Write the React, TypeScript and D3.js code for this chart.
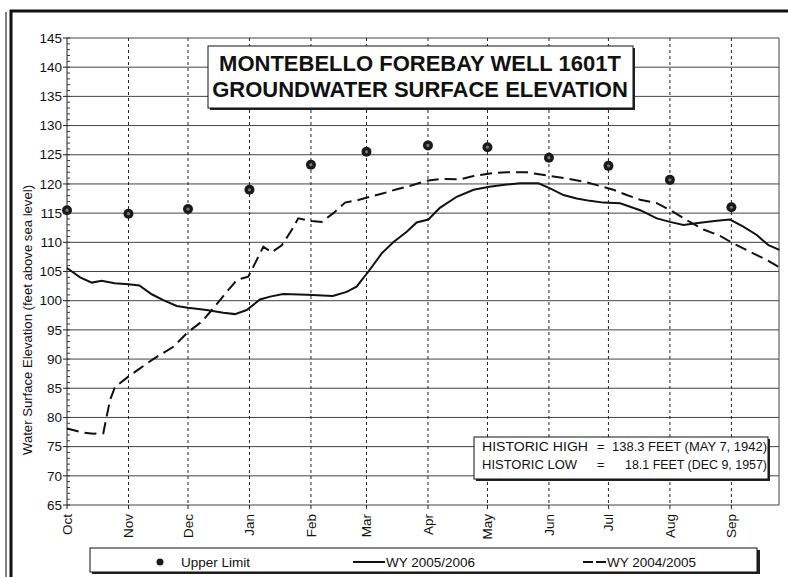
import React from 'react';
import * as d3 from 'd3';

// day of water year (0 = Oct 1) for each month start
const monthNames = ['Oct', 'Nov', 'Dec', 'Jan', 'Feb', 'Mar', 'Apr', 'May', 'Jun', 'Jul', 'Aug', 'Sep'];
const monthDays = [0, 31, 61, 92, 123, 151, 182, 212, 243, 273, 304, 335];

const upperLimit = [115.5, 114.9, 115.7, 119, 123.3, 125.5, 126.6, 126.3, 124.5, 123.1, 120.7, 116];

const wy0506Days = [0, 6.6, 12.5, 17.5, 24, 31, 36.5, 42.7, 48.6, 55.3, 61, 70.4, 78.8, 84.7, 90.6, 97.3, 102.4, 109, 121, 134, 141, 146, 152, 158.7, 164.5, 171.3, 176.3, 182.2, 188, 196.5, 205, 213, 221.7, 228.4, 237.7, 243.6, 250.3, 257, 263.7, 270.5, 278.9, 289, 297.4, 304, 310.8, 319.2, 327.6, 334.3, 341, 347.8, 353.7, 359.2];
const wy0506Vals = [105.6, 104.0, 103.1, 103.4, 103.0, 102.8, 102.6, 101.1, 100.1, 99.1, 98.8, 98.4, 97.95, 97.7, 98.4, 100.2, 100.7, 101.15, 101.0, 100.8, 101.5, 102.4, 105.0, 108.1, 110.0, 111.8, 113.4, 113.9, 115.9, 117.8, 119.0, 119.5, 119.9, 120.1, 120.1, 119.25, 118.1, 117.5, 117.1, 116.8, 116.7, 115.5, 114.1, 113.5, 112.95, 113.35, 113.7, 113.9, 112.7, 111.25, 109.5, 108.7];

const wy0405Days = [0, 7.4, 13.3, 18.3, 21.7, 24.2, 30.6, 36.8, 43.5, 53.6, 60.9, 67.9, 73.8, 80.5, 85.6, 88.1, 91.4, 94.8, 99, 103.2, 108.3, 113.3, 116.6, 123.4, 128.4, 134.3, 140.2, 146.9, 152.8, 159.5, 166.3, 171.3, 181.4, 188.1, 198.2, 205, 213.3, 221.7, 231.8, 243.6, 252, 260.4, 268.8, 275.5, 282.2, 289, 297.4, 304.2, 312.5, 320.9, 329.3, 336, 346, 352.8, 359.2];
const wy0405Vals = [78.1, 77.45, 77.2, 77.3, 83.0, 85.2, 86.9, 88.4, 90.0, 92.1, 94.6, 96.4, 98.7, 101.5, 103.5, 103.8, 104.1, 106.4, 109.25, 108.3, 109.5, 112.1, 114.1, 113.65, 113.5, 115.0, 116.8, 117.25, 117.8, 118.4, 119.1, 119.5, 120.55, 120.85, 120.8, 121.35, 121.8, 122.0, 122.0, 121.35, 120.95, 120.4, 119.65, 119.0, 118.1, 117.3, 116.7, 115.5, 113.8, 112.2, 111.1, 109.8, 108.1, 107.0, 105.7];

const yTicks = d3.range(65, 146, 5);

const W = 788;
const H = 577;
const plot = { left: 67, right: 779, top: 38, bottom: 505 };
const font = 'Arial, "Liberation Sans", sans-serif';

export default function App() {
  const x = d3.scaleLinear().domain([0, 359]).range([plot.left, plot.right]);
  const y = d3.scaleLinear().domain([65, 145]).range([plot.bottom, plot.top]);

  const line = d3
    .line<[number, number]>()
    .x(d => x(d[0]))
    .y(d => y(d[1]));

  const solid = line(wy0506Days.map((d, i) => [d, wy0506Vals[i]] as [number, number]));
  const dashed = line(wy0405Days.map((d, i) => [d, wy0405Vals[i]] as [number, number]));
  const minorTicks = d3.range(65, 146, 1);

  return (
    <svg width={W} height={H} style={{ position: 'absolute', left: 0, top: 0, background: '#fff' }} fontFamily={font}>
      {/* outer frame */}
      <path d="M11,577 V11 H788" fill="none" stroke="#111" strokeWidth={3} />
      <line x1={6} y1={12} x2={6} y2={577} stroke="#555" strokeWidth={1.5} />

      {/* horizontal grid */}
      {yTicks.map(t => (
        <line key={'h' + t} x1={plot.left} x2={plot.right} y1={y(t)} y2={y(t)} stroke="#444" strokeWidth={1} />
      ))}
      {/* vertical grid */}
      {monthDays.slice(1).map(d => (
        <line key={'v' + d} x1={x(d)} x2={x(d)} y1={plot.top} y2={plot.bottom} stroke="#222" strokeWidth={1} strokeDasharray="3,3" />
      ))}
      <line x1={plot.right} x2={plot.right} y1={plot.top} y2={plot.bottom} stroke="#444" />
      <line x1={plot.left} x2={plot.left} y1={plot.top} y2={plot.bottom} stroke="#222" />

      {/* y axis ticks and labels */}
      {minorTicks.map(t => (
        <line key={'m' + t} x1={plot.left} x2={plot.left + 3} y1={y(t)} y2={y(t)} stroke="#333" />
      ))}
      {yTicks.map(t => (
        <g key={'yt' + t}>
          <line x1={plot.left - 4} x2={plot.left} y1={y(t)} y2={y(t)} stroke="#222" />
          <text x={plot.left - 5} y={y(t)} dy="0.35em" textAnchor="end" fontSize={13.5} fill="#111">{t}</text>
        </g>
      ))}

      {/* x axis labels */}
      {monthDays.map((d, i) => (
        <g key={'xt' + d}>
          <line x1={x(d)} x2={x(d)} y1={plot.bottom} y2={plot.bottom + 4} stroke="#222" />
          <text transform={`translate(${x(d)},${plot.bottom + 9}) rotate(-90)`} dy="0.35em" textAnchor="end" fontSize={13.5} fill="#111">
            {monthNames[i]}
          </text>
        </g>
      ))}

      <text transform="translate(32,320) rotate(-90)" textAnchor="middle" fontSize={12} textLength={270} lengthAdjust="spacingAndGlyphs" fill="#111">
        Water Surface Elevation (feet above sea level)
      </text>

      {/* series */}
      <path d={dashed || ''} fill="none" stroke="#111" strokeWidth={2} strokeDasharray="12,6" />
      <path d={solid || ''} fill="none" stroke="#111" strokeWidth={2} />
      {upperLimit.map((v, i) => (
        <g key={'u' + i}>
          <circle cx={x(monthDays[i])} cy={y(v)} r={5} fill="#1a1a1a" />
          <circle cx={x(monthDays[i])} cy={y(v)} r={1.6} fill="#777" />
        </g>
      ))}

      {/* title */}
      <rect x={210} y={48} width={425} height={62} fill="#222" />
      <rect x={208} y={46} width={425} height={62} fill="#fff" stroke="#111" strokeWidth={1} />
      <text x={420} y={71} textAnchor="middle" fontSize={22} fontWeight="bold" fill="#111">MONTEBELLO FOREBAY WELL 1601T</text>
      <text x={420} y={97} textAnchor="middle" fontSize={22} fontWeight="bold" fill="#111">GROUNDWATER SURFACE ELEVATION</text>

      {/* historic box */}
      <rect x={476} y={439} width={294} height={42} fill="#222" />
      <rect x={474} y={437} width={294} height={42} fill="#fff" stroke="#111" strokeWidth={1} />
      <g fontSize={12.5} fill="#111" xmlSpace="preserve" style={{ whiteSpace: 'pre' }}>
        <text x={482} y={451} textLength={106} lengthAdjust="spacingAndGlyphs">HISTORIC HIGH</text>
        <text x={597} y={451}>=</text>
        <text x={612} y={451} textLength={155} lengthAdjust="spacingAndGlyphs">{'138.3 FEET (MAY  7, 1942)'}</text>
        <text x={482} y={469} textLength={95} lengthAdjust="spacingAndGlyphs">HISTORIC LOW</text>
        <text x={597} y={469}>=</text>
        <text x={625} y={469} textLength={142} lengthAdjust="spacingAndGlyphs">{'18.1 FEET (DEC  9, 1957)'}</text>
      </g>

      {/* legend */}
      <rect x={92} y={550} width={668} height={24} fill="#222" />
      <rect x={90} y={548} width={667} height={24} fill="#fff" stroke="#111" strokeWidth={1} />
      <circle cx={160} cy={562} r={3.5} fill="#1a1a1a" />
      <text x={181} y={567} fontSize={13.5} fill="#111">Upper Limit</text>
      <line x1={353} x2={385} y1={562} y2={562} stroke="#111" strokeWidth={2} />
      <text x={386} y={567} fontSize={13.5} fill="#111">WY 2005/2006</text>
      <line x1={583} x2={606} y1={562} y2={562} stroke="#111" strokeWidth={2} strokeDasharray="10,3" />
      <text x={607} y={567} fontSize={13.5} fill="#111">WY 2004/2005</text>
    </svg>
  );
}
